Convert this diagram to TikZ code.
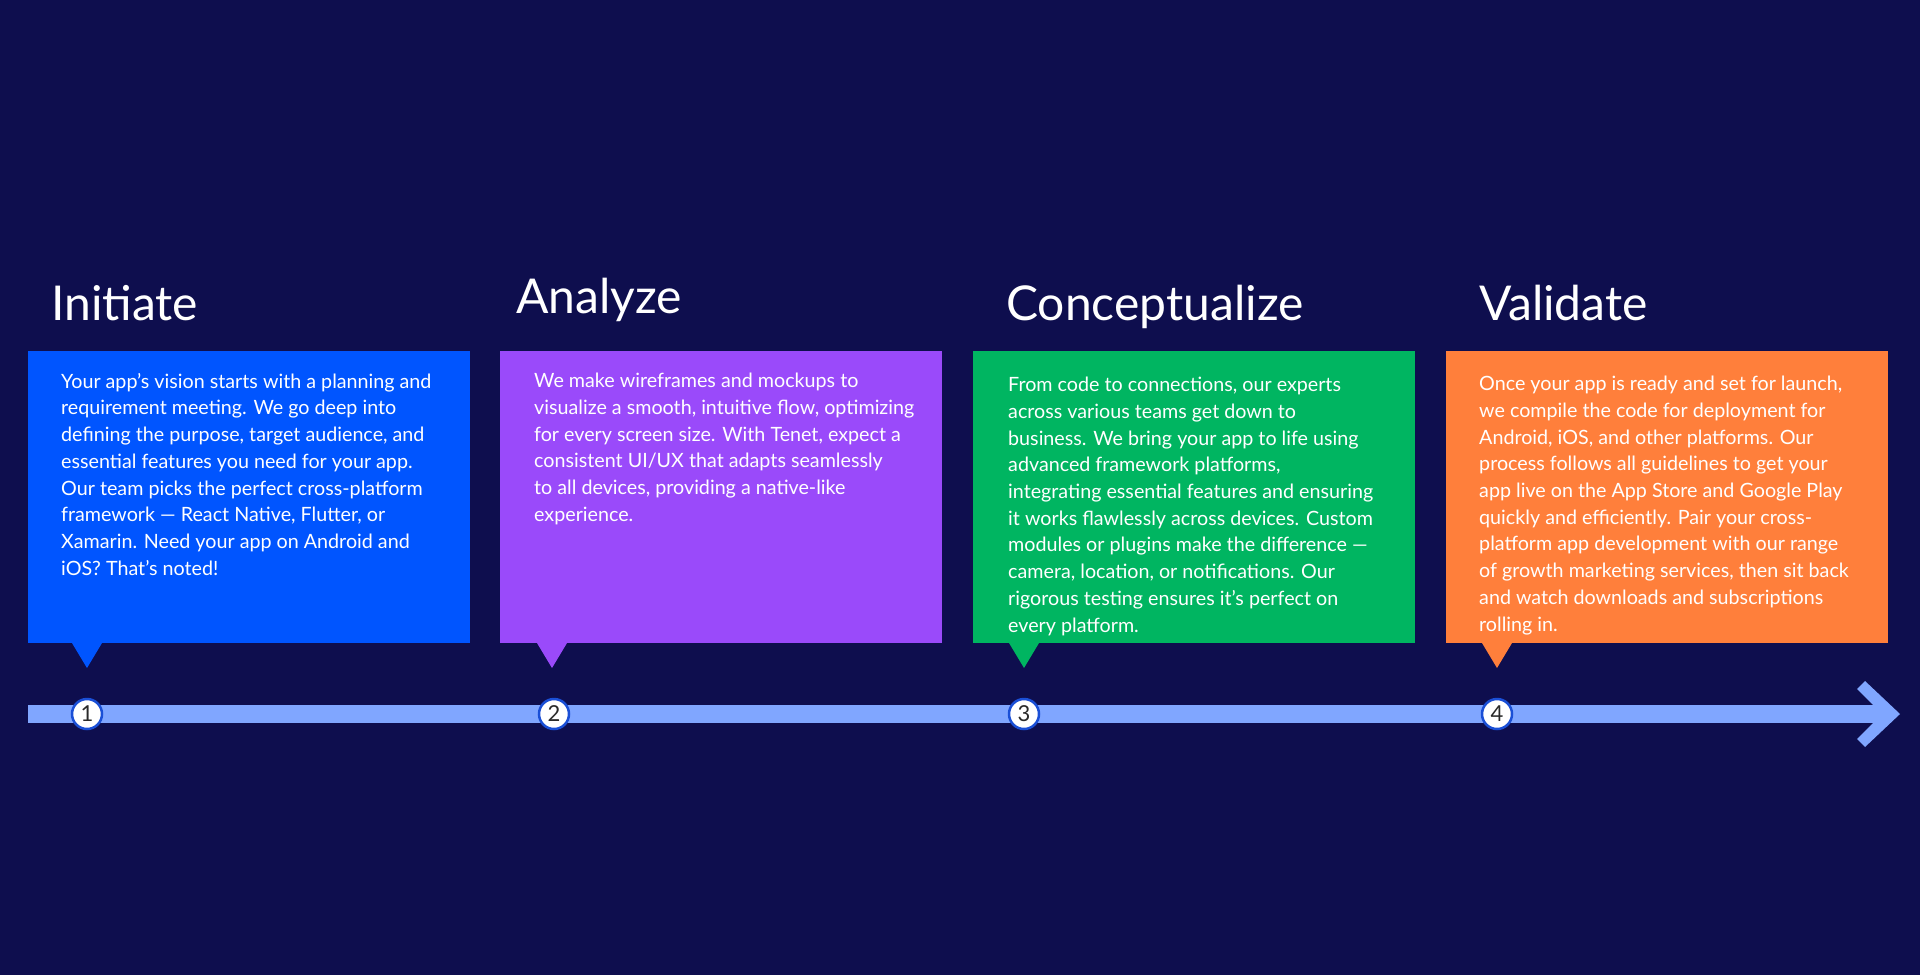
\documentclass[tikz,border=0pt]{standalone}
\usepackage{fontspec}
\setmainfont{Lato}
\usetikzlibrary{positioning}
\definecolor{bgnavy}{HTML}{0E0E4E}
\definecolor{boxblue}{HTML}{0055FF}
\definecolor{boxpurple}{HTML}{9A4AFA}
\definecolor{boxgreen}{HTML}{00B561}
\definecolor{boxorange}{HTML}{FF7F3B}
\definecolor{barblue}{HTML}{80A6FF}
\definecolor{ringblue}{HTML}{1A4FD6}
\definecolor{numgray}{HTML}{2A2A2A}
\tikzset{
	stagebox/.style = {rectangle, inner sep=0, minimum width=442, minimum height=292, anchor=north west},
	stagetitle/.style = {inner sep=0, text=white, font=\fontsize{48}{54}\selectfont},
	stagetext/.style = {inner sep=0, text=white, align=left, anchor=north west, font=\fontsize{19.7}{26.7}\selectfont, execute at begin node={\rule{0pt}{20pt}}},
	stepdot/.style = {circle, inner sep=0, minimum size=30, fill=white, draw=ringblue, line width=2.5, text=numgray, font=\fontsize{22}{22}\selectfont}}
\tikzset{
	pointer/.pic = {
	 \coordinate (-tip) at (0,25) ;
	 \fill (-15,0) -- (0,25) -- (15,0) -- cycle;
	 }
	}

\begin{document}
\begin{tikzpicture}[x=1pt, y=-1pt]
\fill[bgnavy] (0,0) rectangle (1920,975);
\useasboundingbox (0,0) rectangle (1920,975);

% NODES
% boxes
\node (b1) [stagebox, fill=boxblue] at (28,351) {};
\node (b2) [stagebox, fill=boxpurple] at (500,351) {};
\node (b3) [stagebox, fill=boxgreen] at (973,351) {};
\node (b4) [stagebox, fill=boxorange] at (1446,351) {};
\pic (p1) [boxblue] at (87,643) {pointer};
\pic (p2) [boxpurple] at (552,643) {pointer};
\pic (p3) [boxgreen] at (1024,643) {pointer};
\pic (p4) [boxorange] at (1497,643) {pointer};
% titles
\node (t1) [stagetitle, above right=31pt and 23pt of b1.north west, anchor=base west] {Initiate};
\node (t2) [stagetitle, above right=38pt and 16pt of b2.north west, anchor=base west] {Analyze};
\node (t3) [stagetitle, above right=31pt and 33pt of b3.north west, anchor=base west] {Conceptualize};
\node (t4) [stagetitle, above right=31pt and 33pt of b4.north west, anchor=base west] {Validate};
% texts
\node (x1) [stagetext, below right=22pt and 33pt of b1.north west] {Your app’s vision starts with a planning and\\
requirement meeting. We go deep into\\
defining the purpose, target audience, and\\
essential features you need for your app.\\
Our team picks the perfect cross-platform\\
framework — React Native, Flutter, or\\
Xamarin. Need your app on Android and\\
iOS? That's noted!};
\node (x2) [stagetext, below right=22pt and 34pt of b2.north west] {We make wireframes and mockups to\\
visualize a smooth, intuitive flow, optimizing\\
for every screen size. With Tenet, expect a\\
consistent UI/UX that adapts seamlessly\\
to all devices, providing a native-like\\
experience.};
\node (x3) [stagetext, below right=26pt and 35pt of b3.north west] {From code to connections, our experts\\
across various teams get down to\\
business. We bring your app to life using\\
advanced framework platforms,\\
integrating essential features and ensuring\\
it works flawlessly across devices. Custom\\
modules or plugins make the difference —\\
camera, location, or notifications. Our\\
rigorous testing ensures it’s perfect on\\
every platform.};
\node (x4) [stagetext, below right=25pt and 33pt of b4.north west] {Once your app is ready and set for launch,\\
we compile the code for deployment for\\
Android, iOS, and other platforms. Our\\
process follows all guidelines to get your\\
app live on the App Store and Google Play\\
quickly and efficiently. Pair your cross-\\
platform app development with our range\\
of growth marketing services, then sit back\\
and watch downloads and subscriptions\\
rolling in.};
% timeline
\coordinate (barstart) at (28,714);
\coordinate (barend) at (1900,714);

%CONNECTIONS
\draw[barblue, line width=18] (barstart) -- ([xshift=-10]barend);
\fill[barblue] ([shift={(-35,-33)}]barend) -- (barend) -- ([shift={(-35,33)}]barend) -- ([shift={(-43,25)}]barend) -- ([shift={(-18,0)}]barend) -- ([shift={(-43,-25)}]barend) -- cycle;
\node (d1) [stepdot] at (87,714) {1};
\node (d2) [stepdot] at (554,714) {2};
\node (d3) [stepdot] at (1024,714) {3};
\node (d4) [stepdot] at (1497,714) {4};

\end{tikzpicture}
\end{document}
